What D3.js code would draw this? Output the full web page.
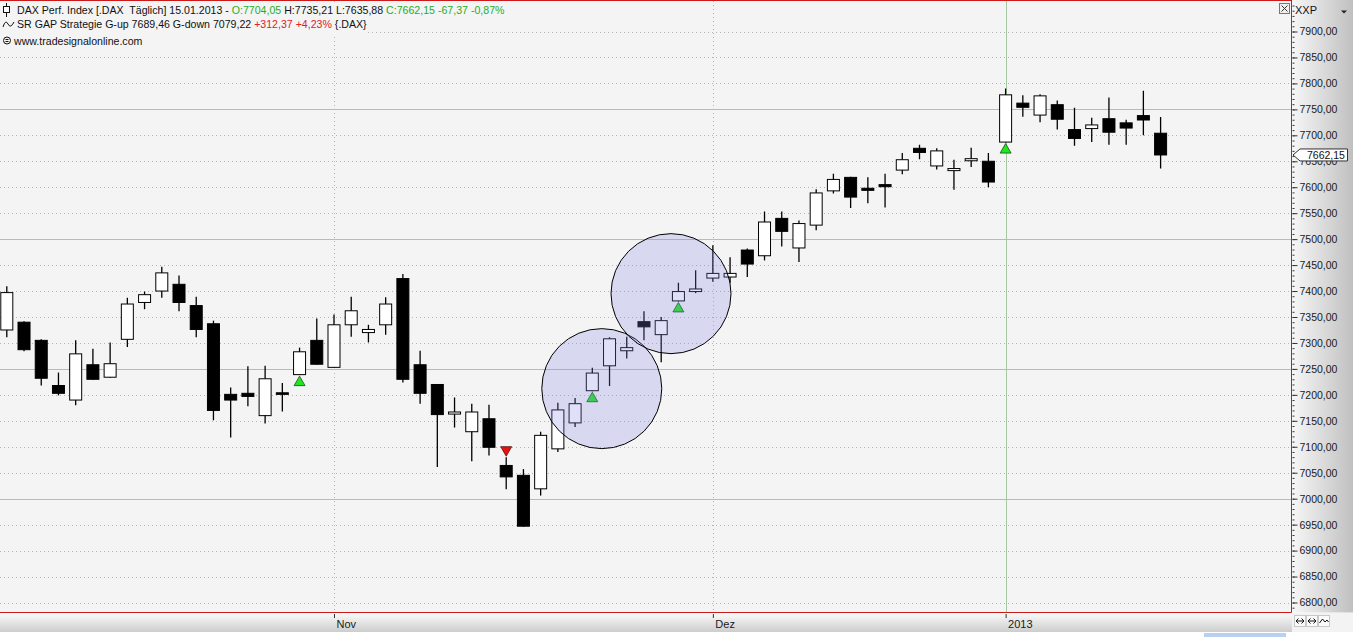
<!DOCTYPE html>
<html>
<head>
<meta charset="utf-8">
<script src="https://cdn.jsdelivr.net/npm/d3@7"></script>
<style>
  html, body { margin: 0; padding: 0; background: #fff; overflow: hidden; }
  svg { display: block; font-family: "Liberation Sans", Arial, sans-serif; }
</style>
</head>
<body>
<div id="chart"></div>
<script>
// DAX daily candles, 05.10.2012 - 15.01.2013
const dates = [
  "2012-10-05", "2012-10-08", "2012-10-09", "2012-10-10", "2012-10-11", "2012-10-12",
  "2012-10-15", "2012-10-16", "2012-10-17", "2012-10-18", "2012-10-19",
  "2012-10-22", "2012-10-23", "2012-10-24", "2012-10-25", "2012-10-26",
  "2012-10-29", "2012-10-30", "2012-10-31", "2012-11-01", "2012-11-02",
  "2012-11-05", "2012-11-06", "2012-11-07", "2012-11-08", "2012-11-09",
  "2012-11-12", "2012-11-13", "2012-11-14", "2012-11-15", "2012-11-16",
  "2012-11-19", "2012-11-20", "2012-11-21", "2012-11-22", "2012-11-23",
  "2012-11-26", "2012-11-27", "2012-11-28", "2012-11-29", "2012-11-30",
  "2012-12-03", "2012-12-04", "2012-12-05", "2012-12-06", "2012-12-07",
  "2012-12-10", "2012-12-11", "2012-12-12", "2012-12-13", "2012-12-14",
  "2012-12-17", "2012-12-18", "2012-12-19", "2012-12-20", "2012-12-21",
  "2012-12-27", "2012-12-28", "2013-01-02", "2013-01-03", "2013-01-04",
  "2013-01-07", "2013-01-08", "2013-01-09", "2013-01-10", "2013-01-11",
  "2013-01-14", "2013-01-15"
];
const opens = [
  7325, 7340, 7305, 7218, 7190, 7258, 7234, 7307, 7378, 7400, 7413,
  7372, 7337, 7201, 7203, 7160, 7204, 7239, 7305, 7253, 7335,
  7320, 7335, 7424, 7258, 7220, 7163, 7129, 7154, 7064, 7045,
  7019, 7096, 7146, 7208, 7256, 7285, 7341, 7316, 7381, 7399,
  7425, 7427, 7479, 7468, 7540, 7483, 7527, 7593, 7619, 7598,
  7605, 7633, 7675, 7641, 7632, 7651, 7650, 7687, 7762, 7739,
  7759, 7711, 7713, 7732, 7724, 7738, 7704.05
];
const highs = [
  7409, 7342, 7307, 7243, 7305, 7289, 7301, 7387, 7399, 7447, 7430,
  7389, 7343, 7214, 7255, 7256, 7223, 7291, 7347, 7355, 7389,
  7335, 7388, 7433, 7285, 7221, 7195, 7183, 7181, 7080, 7057,
  7129, 7185, 7194, 7252, 7311, 7312, 7361, 7350, 7416, 7440,
  7488, 7465, 7482, 7553, 7553, 7536, 7596, 7626, 7620, 7619,
  7626, 7666, 7682, 7675, 7653, 7676, 7666, 7790, 7777, 7779,
  7767, 7753, 7734, 7773, 7730, 7786, 7735.21
];
const lows = [
  7311, 7284, 7218, 7199, 7180, 7229, 7233, 7292, 7365, 7387, 7361,
  7311, 7151, 7118, 7178, 7145, 7168, 7238, 7258, 7252, 7312,
  7301, 7316, 7224, 7183, 7061, 7137, 7072, 7083, 7018, 6946,
  7006, 7090, 7138, 7207, 7217, 7270, 7305, 7263, 7380, 7396,
  7418, 7416, 7427, 7459, 7486, 7456, 7517, 7588, 7560, 7569,
  7561, 7625, 7654, 7634, 7595, 7639, 7600, 7686, 7736, 7725,
  7711, 7680, 7687, 7682, 7682, 7700, 7635.88
];
const closes = [
  7397, 7287, 7232, 7203, 7279, 7230, 7260, 7375, 7393, 7435, 7378,
  7326, 7170, 7190, 7197, 7231, 7201, 7283, 7259, 7335, 7362,
  7326, 7375, 7230, 7203, 7162, 7167, 7167, 7099, 7042, 6947,
  7122, 7171, 7183, 7242, 7308, 7291, 7331, 7343, 7399, 7404,
  7434, 7434, 7452, 7533, 7515, 7530, 7589, 7615, 7581, 7594,
  7601, 7653, 7667, 7670, 7636, 7655, 7610, 7778, 7754, 7776,
  7731, 7694, 7720, 7706, 7714, 7729.52, 7662.15
];

// GAP strategy signals
const signalUp = ["2012-10-30", "2012-11-22", "2012-11-29", "2013-01-02"];
const signalDown = ["2012-11-15"];

// hand drawn circles (centre in bar units / price)
const circleBars = [34.55, 38.57];
const circlePrices = [7212, 7395];

const monthTickDates = ["2012-11-01", "2012-12-03", "2013-01-02"];
const monthTickLabels = ["Nov", "Dez", "2013"];

const priceTicks = d3.range(6800, 7901, 50);

const W = 1353, H = 637;
const plotRight = 1291, plotBottom = 612.5;
const plotBg = "#f4f4f4";
const gridGreen = "#a4c8a4";

const de = d3.formatLocale({ decimal: ",", thousands: ".", grouping: [3], currency: ["", "€"] });
const fmt = de.format(".2f");

const x = d3.scaleLinear().domain([0, dates.length - 1]).range([6.8, 1160.6]);
const y = d3.scaleLinear().domain([6800, 7900]).range([602.5, 31.5]);
const idx = d => dates.indexOf(d);

const candles = dates.map((d, i) => ({ date: d, i: i, o: opens[i], h: highs[i], l: lows[i], c: closes[i] }));

const svg = d3.select("#chart").append("svg").attr("width", W).attr("height", H);
const defs = svg.append("defs");

const gradR = defs.append("linearGradient").attr("id", "gradR")
  .attr("x1", 0).attr("x2", 1).attr("y1", 0).attr("y2", 0);
gradR.append("stop").attr("offset", 0).attr("stop-color", "#f7f7f7");
gradR.append("stop").attr("offset", 1).attr("stop-color", "#c0c0c0");

const gradB = defs.append("linearGradient").attr("id", "gradB")
  .attr("x1", 0).attr("x2", 0).attr("y1", 0).attr("y2", 1);
gradB.append("stop").attr("offset", 0).attr("stop-color", "#fbfbfb");
gradB.append("stop").attr("offset", 1).attr("stop-color", "#cdcdcd");

defs.append("clipPath").attr("id", "plotClip").append("rect")
  .attr("x", 0).attr("y", 1).attr("width", plotRight).attr("height", plotBottom - 1);

svg.append("rect").attr("width", W).attr("height", H).attr("fill", "#fff");
svg.append("rect").attr("width", plotRight).attr("height", plotBottom).attr("fill", plotBg);

// grid
const grid = svg.append("g").attr("clip-path", "url(#plotClip)");
grid.selectAll("line.hdot")
  .data(priceTicks.filter(p => p % 250 !== 0))
  .join("line")
  .attr("x1", 0).attr("x2", plotRight)
  .attr("y1", d => Math.round(y(d)) + 0.5).attr("y2", d => Math.round(y(d)) + 0.5)
  .attr("stroke", "#b4b4b4").attr("stroke-dasharray", "1,3");
grid.selectAll("line.hsolid")
  .data(priceTicks.filter(p => p % 250 === 0))
  .join("line")
  .attr("x1", 0).attr("x2", plotRight)
  .attr("y1", d => Math.round(y(d)) + 0.5).attr("y2", d => Math.round(y(d)) + 0.5)
  .attr("stroke", gridGreen);
grid.selectAll("line.v")
  .data(monthTickDates)
  .join("line")
  .attr("x1", d => Math.round(x(idx(d))) + 0.5).attr("x2", d => Math.round(x(idx(d))) + 0.5)
  .attr("y1", 1).attr("y2", plotBottom)
  .attr("stroke", (d, i) => monthTickLabels[i] === "2013" ? gridGreen : "#b4b4b4")
  .attr("stroke-dasharray", (d, i) => monthTickLabels[i] === "2013" ? null : "1,3");

// candles
const bw = 12;
const cg = svg.append("g").attr("clip-path", "url(#plotClip)");
cg.selectAll("line.wick")
  .data(candles)
  .join("line")
  .attr("x1", d => x(d.i)).attr("x2", d => x(d.i))
  .attr("y1", d => y(d.h)).attr("y2", d => y(d.l))
  .attr("stroke", "#000").attr("stroke-width", 1.3);
cg.selectAll("rect.body")
  .data(candles)
  .join("rect")
  .attr("x", d => x(d.i) - bw / 2)
  .attr("y", d => y(Math.max(d.o, d.c)))
  .attr("width", bw)
  .attr("height", d => Math.max(1.5, Math.abs(y(d.o) - y(d.c))))
  .attr("fill", d => d.c >= d.o ? "#fff" : "#000")
  .attr("stroke", "#000").attr("stroke-width", 1);

// signals
cg.selectAll("path.up")
  .data(signalUp.map(idx))
  .join("path")
  .attr("d", i => {
    const cx = x(i), t = y(lows[i]) + 1;
    return `M${cx},${t}L${cx + 5.5},${t + 9.5}L${cx - 5.5},${t + 9.5}Z`;
  })
  .attr("fill", "#22e622").attr("stroke", "#145214").attr("stroke-width", 0.8);
cg.selectAll("path.down")
  .data(signalDown.map(idx))
  .join("path")
  .attr("d", i => {
    const cx = x(i), b = y(highs[i]) - 1;
    return `M${cx},${b}L${cx + 5.5},${b - 9.5}L${cx - 5.5},${b - 9.5}Z`;
  })
  .attr("fill", "#e81010").attr("stroke", "#5a1010").attr("stroke-width", 0.8);

// circles
cg.selectAll("circle.note")
  .data(circleBars)
  .join("circle")
  .attr("cx", d => x(d))
  .attr("cy", (d, i) => y(circlePrices[i]))
  .attr("r", 60)
  .attr("fill", "rgba(133,135,233,0.25)")
  .attr("stroke", "#000").attr("stroke-width", 1);

// header
const header = svg.append("g").style("font-size", "10.6px");
const last = candles[candles.length - 1];
const headerLines = [
  { y: 14, x: 17, parts: [
    ["DAX Perf. Index [.DAX\u00a0 Täglich] 15.01.2013 - ", "#111"],
    ["O:" + fmt(last.o), "#1fae1f"],
    [" H:" + fmt(last.h) + " L:" + fmt(last.l) + " ", "#111"],
    ["C:" + fmt(last.c) + " -67,37 -0,87%", "#1fae1f"]
  ]},
  { y: 28, x: 17, parts: [
    ["SR GAP Strategie G-up 7689,46 G-down 7079,22 ", "#111"],
    ["+312,37 +4,23%", "#e0202a"],
    [" {.DAX}", "#111"]
  ]},
  { y: 45, x: 14, parts: [["www.tradesignalonline.com", "#111"]] }
];
headerLines.forEach((ln, k) => {
  const g = header.append("g");
  const t = g.append("text").attr("x", ln.x).attr("y", ln.y)
    .attr("xml:space", "preserve").style("white-space", "pre");
  ln.parts.forEach(p => t.append("tspan").attr("fill", p[1]).text(p[0]));
  const bb = t.node().getBBox();
  g.insert("rect", "text")
    .attr("x", 0).attr("y", k === 0 ? 2 : ln.y - 12)
    .attr("width", bb.x + bb.width + 1).attr("height", k === 1 ? 18.5 : 14)
    .attr("fill", plotBg);
});
// header icons
header.append("line").attr("x1", 6.5).attr("x2", 6.5).attr("y1", 3).attr("y2", 17).attr("stroke", "#111");
header.append("rect").attr("x", 3.5).attr("y", 6.5).attr("width", 6).attr("height", 6).attr("fill", "#fff").attr("stroke", "#111");
header.append("path").attr("d", "M3,27 Q5.5,19 8,24 T14,22").attr("fill", "none").attr("stroke", "#111").attr("stroke-width", 1);
header.append("circle").attr("cx", 7).attr("cy", 40.5).attr("r", 3.5).attr("fill", "none").attr("stroke", "#111");
header.append("line").attr("x1", 5.5).attr("x2", 8.5).attr("y1", 39.5).attr("y2", 39.5).attr("stroke", "#111");
header.append("line").attr("x1", 5.5).attr("x2", 8.5).attr("y1", 41.5).attr("y2", 41.5).attr("stroke", "#111");

// close box
svg.append("rect").attr("x", 1279.5).attr("y", 3.5).attr("width", 10).attr("height", 10)
  .attr("fill", "#f0f0f0").attr("stroke", "#777");
svg.append("path").attr("d", "M1281.5,5.5L1287.5,11.5M1287.5,5.5L1281.5,11.5").attr("stroke", "#333");

// right axis
const ra = svg.append("g");
ra.append("rect").attr("x", plotRight + 1).attr("y", 0).attr("width", W - plotRight - 1).attr("height", plotBottom)
  .attr("fill", "url(#gradR)");
const minorAxis = ra.append("g").attr("transform", `translate(${plotRight + 1.5},0)`)
  .call(d3.axisRight(y).tickValues(d3.range(6790, 7951, 10)).tickSize(2).tickFormat(""));
minorAxis.select(".domain").remove();
minorAxis.selectAll("line").attr("stroke", "#333");
const majorAxis = ra.append("g").attr("transform", `translate(${plotRight + 1.5},0)`)
  .call(d3.axisRight(y).tickValues(priceTicks).tickSize(5).tickPadding(2).tickFormat(fmt));
majorAxis.select(".domain").remove();
majorAxis.selectAll("line").attr("stroke", "#333");
majorAxis.selectAll("text").attr("fill", "#1a1a1a")
  .style("font-size", "10.5px").style("font-family", "'Liberation Sans', Arial, sans-serif");

ra.append("text").attr("x", 1295).attr("y", 14).attr("fill", "#111").style("font-size", "11px").text("XXP");
ra.append("path").attr("d", "M1341,10.5L1347,10.5L1344,13.5Z").attr("fill", "#222");

// last price marker (drawn over the 7650 label, as in the platform)
const yl = y(last.c);
ra.append("path")
  .attr("d", `M${plotRight + 2},${yl}L${plotRight + 9},${yl - 6}L1347.5,${yl - 6}L1347.5,${yl + 6}L${plotRight + 9},${yl + 6}Z`)
  .attr("fill", "#fff").attr("stroke", "#333");
ra.append("text").attr("x", 1307).attr("y", yl + 4).attr("fill", "#111")
  .style("font-size", "10.5px").text(fmt(last.c));

// bottom axis
const ba = svg.append("g");
ba.append("rect").attr("x", 0).attr("y", plotBottom + 0.5).attr("width", plotRight + 1).attr("height", 19)
  .attr("fill", "url(#gradB)");
const xAxis = ba.append("g").attr("transform", `translate(0,${plotBottom + 1.5})`)
  .call(d3.axisBottom(x).tickValues(monthTickDates.map(idx)).tickSize(4)
    .tickFormat((d, i) => monthTickLabels[i]));
xAxis.select(".domain").remove();
xAxis.selectAll("line").attr("stroke", "#333");
xAxis.selectAll("text")
  .attr("text-anchor", "start").attr("x", 2).attr("y", 14).attr("dy", null)
  .attr("fill", "#1a1a1a").style("font-size", "11px")
  .style("font-family", "'Liberation Sans', Arial, sans-serif");

// corner buttons
const corner = svg.append("g");
corner.append("rect").attr("x", plotRight + 1).attr("y", plotBottom + 0.5).attr("width", W - plotRight - 1).attr("height", 19)
  .attr("fill", "#f3f3f3");
[1294.5, 1306.5, 1318.5].forEach((bx, k) => {
  corner.append("rect").attr("x", bx).attr("y", 615.5).attr("width", 11).attr("height", 11)
    .attr("fill", "#fafafa").attr("stroke", "#c8c8c8");
  const cy = 621;
  if (k < 2) {
    corner.append("path")
      .attr("d", `M${bx + 1.5},${cy}L${bx + 9.5},${cy}M${bx + 1.5},${cy}l2.5,-2.5M${bx + 1.5},${cy}l2.5,2.5M${bx + 9.5},${cy}l-2.5,-2.5M${bx + 9.5},${cy}l-2.5,2.5`)
      .attr("stroke", "#111").attr("fill", "none");
  } else {
    corner.append("path")
      .attr("d", `M${bx + 1},${cy + 2}L${bx + 4},${cy - 2}L${bx + 6.5},${cy + 1}L${bx + 8.5},${cy - 1}L${bx + 10},${cy + 1}`)
      .attr("stroke", "#111").attr("fill", "none");
  }
});

// bottom strip
svg.append("rect").attr("x", 1204).attr("y", 633).attr("width", 82).attr("height", 4).attr("fill", "#b9d0f0");

// red frame lines
svg.append("line").attr("x1", 0).attr("x2", plotRight + 0.5).attr("y1", 0.5).attr("y2", 0.5).attr("stroke", "#cc1a1a");
svg.append("line").attr("x1", 0).attr("x2", plotRight + 0.5).attr("y1", plotBottom).attr("y2", plotBottom).attr("stroke", "#cc1a1a");
svg.append("line").attr("x1", plotRight + 0.5).attr("x2", plotRight + 0.5).attr("y1", 0).attr("y2", plotBottom).attr("stroke", "#cc1a1a");
</script>
</body>
</html>
